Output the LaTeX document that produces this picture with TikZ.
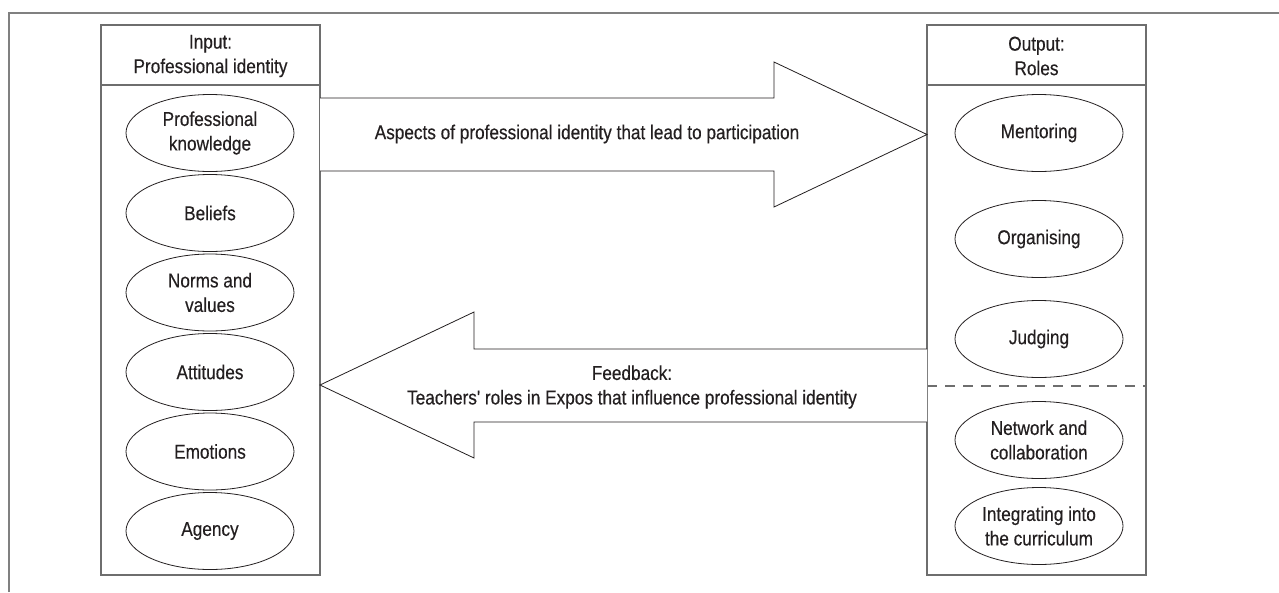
\documentclass[tikz,border=0pt]{standalone}
\usepackage{fontspec}
\setmainfont{Liberation Sans}[FakeStretch=0.86,Ligatures=TeXOff,FakeBold=0.35]
\usetikzlibrary{calc,shapes.geometric}
\definecolor{txt}{HTML}{231F20}
\definecolor{framec}{HTML}{808080}
\definecolor{boxc}{HTML}{6E6E6E}
\begin{document}
\begin{tikzpicture}[x=1pt,y=-1pt,
  every node/.style={text=txt,font=\fontsize{20}{24.5}\selectfont,align=center},
  oval/.style={draw=txt,line width=0.8pt,ellipse,minimum width=168pt,minimum height=77pt,inner sep=0pt},
  panel/.style={draw=boxc,line width=1.2pt},
  bigarrow/.style={draw=txt,line width=0.8pt,fill=white,line join=miter}]
\useasboundingbox (0,0) rectangle (1279,592);
% outer frame
\draw[framec,line width=1.6pt] (9,592) -- (9,13) -- (1279,13);
% left panel
\draw[panel] (101,25) rectangle (320,575);
\draw[panel] (101,85) -- (320,85);
\node (lt) at (210.5,56) {Input:\\Professional identity};
% right panel
\draw[panel] (927,25) rectangle (1146,575);
\draw[panel] (927,85) -- (1146,85);
\draw[boxc,line width=1.2pt,dash pattern=on 10pt off 8pt] (927,386) -- (1146,386);
\node (rt) at (1036.5,56) {Output:\\Roles};
% left ovals
\node[oval] (pk) at (210,133) {Professional\\knowledge};
\node[oval] (be) at (210,213) {Beliefs};
\node[oval] (nv) at (210,292.5) {Norms and\\values};
\node[oval] (at) at (210,372) {Attitudes};
\node[oval] (em) at (210,451.5) {Emotions};
\node[oval] (ag) at (210,531) {Agency};
% right ovals
\node[oval] (me) at (1039,133) {Mentoring};
\node[oval] (or) at (1039,239) {Organising};
\node[oval] (ju) at (1039,339) {Judging};
\node[oval] (nc) at (1039,440) {Network and\\collaboration};
\node[oval] (ic) at (1039,526) {Integrating into\\the curriculum};
% arrows
\draw[bigarrow] (320,98) -- (774,98) -- (774,62) -- (927,134.5) -- (774,207) -- (774,171) -- (320,171);
\draw[bigarrow] (927,349) -- (474,349) -- (474,312) -- (320,385) -- (474,458) -- (474,422) -- (927,422);
\node (a1) at (587,134) {Aspects of professional identity that lead to participation};
\node (a2) at (632,387) {Feedback:\\Teachers' roles in Expos that influence professional identity};
\end{tikzpicture}
\end{document}
